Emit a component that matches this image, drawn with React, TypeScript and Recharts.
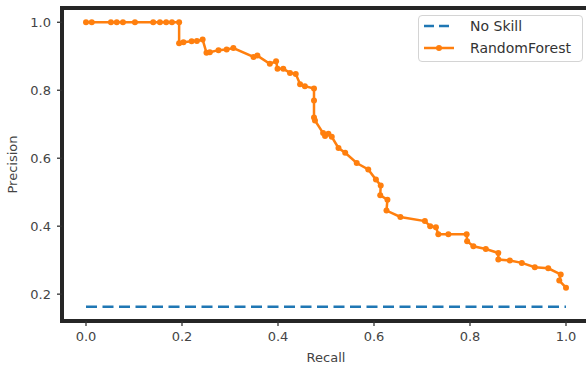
import React from "react";
import { LineChart, Line, XAxis, YAxis, ReferenceArea, Legend } from "recharts";

// precision / recall pairs
const recall = [
  0.0, 0.012, 0.052, 0.064, 0.077, 0.102, 0.14, 0.154, 0.167, 0.179, 0.194,
  0.194, 0.203, 0.22, 0.231, 0.243, 0.251, 0.258, 0.276, 0.293, 0.307, 0.349,
  0.357, 0.383, 0.396, 0.399, 0.411, 0.425, 0.437, 0.446, 0.456, 0.475, 0.475,
  0.475, 0.477, 0.494, 0.498, 0.505, 0.512, 0.526, 0.54, 0.564, 0.588, 0.604,
  0.614, 0.613, 0.628, 0.626, 0.655, 0.706, 0.717, 0.729, 0.734, 0.755, 0.793,
  0.794, 0.807, 0.833, 0.859, 0.859, 0.883, 0.908, 0.935, 0.963, 0.989, 0.986,
  1.0,
];
const precision = [
  1.0, 1.0, 1.0, 1.0, 1.0, 1.0, 1.0, 1.0, 1.0, 1.0, 1.0,
  0.938, 0.941, 0.944, 0.945, 0.949, 0.91, 0.912, 0.918, 0.92, 0.924, 0.898,
  0.902, 0.878, 0.885, 0.863, 0.863, 0.851, 0.848, 0.818, 0.812, 0.805, 0.77,
  0.72, 0.711, 0.674, 0.665, 0.672, 0.663, 0.63, 0.616, 0.586, 0.567, 0.537,
  0.52, 0.491, 0.478, 0.446, 0.427, 0.415, 0.4, 0.397, 0.376, 0.376, 0.376,
  0.356, 0.341, 0.333, 0.321, 0.302, 0.299, 0.292, 0.279, 0.276, 0.258, 0.24,
  0.219,
];
const noSkillRecall = [0, 1];
const noSkillPrecision = [0.163, 0.163];

const xTicks = [0, 0.2, 0.4, 0.6, 0.8, 1.0];
const yTicks = [0.2, 0.4, 0.6, 0.8, 1.0];
const xDomain: [number, number] = [-0.05, 1.05];
const yDomain: [number, number] = [0.121, 1.042];

const BLUE = "#1f77b4";
const ORANGE = "#ff7f0e";
const TEXT = "#444";

const rfData = recall.map((r, i) => ({ r, p: precision[i] }));
const noSkillData = noSkillRecall.map((r, i) => ({ r, p: noSkillPrecision[i] }));

function LegendBox() {
  return (
    <div
      style={{
        width: 165,
        height: 47,
        boxSizing: "border-box",
        border: "1px solid #d4d4d4",
        borderRadius: 4,
        background: "#fff",
      }}
    >
      <svg width={163} height={45} style={{ display: "block" }}>
        <line x1={5} y1={10} x2={35} y2={10} stroke={BLUE} strokeWidth={2.5} strokeDasharray="10 5" />
        <line x1={5} y1={32} x2={35} y2={32} stroke={ORANGE} strokeWidth={2.5} />
        <circle cx={20} cy={32} r={3} fill={ORANGE} />
        <text x={51} y={10} dy="0.36em" fontSize={14} fill="#333" fontFamily="DejaVu Sans">
          No Skill
        </text>
        <text x={51} y={32} dy="0.36em" fontSize={14} fill="#333" fontFamily="DejaVu Sans">
          RandomForest
        </text>
      </svg>
    </div>
  );
}

export default function App() {
  const tickStyle = { fill: TEXT, fontSize: 13, fontFamily: "DejaVu Sans" };
  return (
    <div
      style={{
        position: "absolute",
        left: 0,
        top: 0,
        width: 586,
        height: 367,
        overflow: "hidden",
        background: "#fff",
      }}
    >
      <LineChart
        width={600}
        height={367}
        margin={{ top: 8, right: 10, bottom: 0, left: 0 }}
        style={{ fontFamily: "DejaVu Sans" }}
      >
        <XAxis
          type="number"
          dataKey="r"
          domain={xDomain}
          ticks={xTicks}
          allowDataOverflow
          height={46}
          axisLine={false}
          tickLine={{ stroke: "#333", strokeWidth: 1.3 }}
          tickSize={5}
          tickMargin={6}
          tick={tickStyle}
          tickFormatter={(v: number) => v.toFixed(1)}
          label={{
            value: "Recall",
            position: "insideBottom",
            offset: 5,
            style: { fill: TEXT, fontSize: 13, fontFamily: "DejaVu Sans" },
          }}
        />
        <YAxis
          type="number"
          dataKey="p"
          domain={yDomain}
          ticks={yTicks}
          allowDataOverflow
          width={62}
          axisLine={false}
          tickLine={{ stroke: "#333", strokeWidth: 1.3 }}
          tickSize={5}
          tickMargin={6}
          tick={tickStyle}
          tickFormatter={(v: number) => v.toFixed(1)}
          label={{
            value: "Precision",
            angle: -90,
            position: "insideLeft",
            offset: 12,
            style: { fill: TEXT, fontSize: 13, fontFamily: "DejaVu Sans", textAnchor: "middle" },
          }}
        />
        <Line
          data={noSkillData}
          dataKey="p"
          name="No Skill"
          type="linear"
          stroke={BLUE}
          strokeWidth={2.5}
          strokeDasharray="11 5.5"
          dot={false}
          isAnimationActive={false}
        />
        <Line
          data={rfData}
          dataKey="p"
          name="RandomForest"
          type="linear"
          stroke={ORANGE}
          strokeWidth={2.5}
          dot={{ r: 3, fill: ORANGE, stroke: "none" }}
          isAnimationActive={false}
        />
        <ReferenceArea
          x1={xDomain[0]}
          x2={xDomain[1]}
          y1={yDomain[0]}
          y2={yDomain[1]}
          fill="none"
          fillOpacity={0}
          stroke="#262626"
          strokeWidth={4}
          ifOverflow="visible"
        />
        <Legend
          layout="horizontal"
          verticalAlign="middle"
          align="center"
          content={() => <LegendBox />}
          wrapperStyle={{ left: 418, top: 15, width: 165, height: 47 }}
        />
      </LineChart>
    </div>
  );
}
